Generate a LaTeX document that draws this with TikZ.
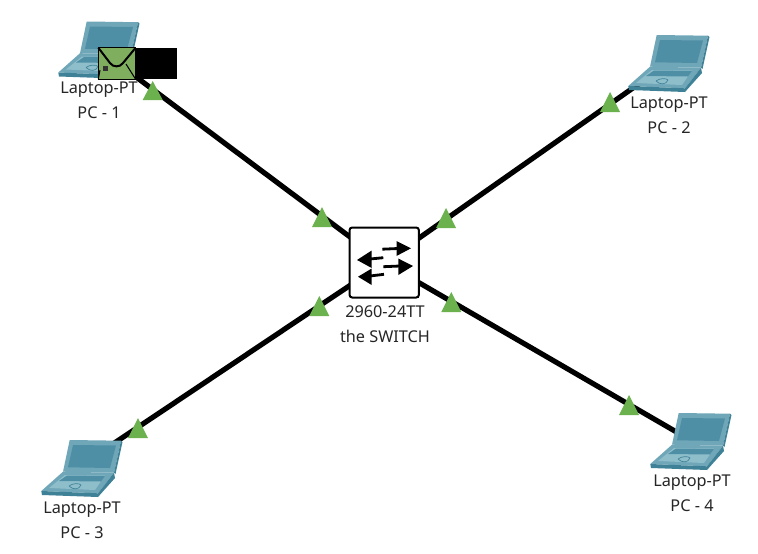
\documentclass[tikz,border=0pt]{standalone}
\usepackage{fontspec}
\setmainfont{Noto Sans}
\usetikzlibrary{backgrounds}
\definecolor{linkgreen}{HTML}{6BB24F}
\definecolor{mailgreen}{HTML}{7FAE5E}
\definecolor{lapmid}{HTML}{6FA6B8}
\definecolor{lapdark}{HTML}{3F8298}
\definecolor{lapscreen}{HTML}{4F8FA6}
\definecolor{laplight}{HTML}{8FBECB}
\tikzset{
  link/.style={line width=3.9pt,black},
  tri/.style={fill=linkgreen,draw=none},
  lbl/.style={font=\fontsize{12.2pt}{18.75pt}\selectfont,text=black!85,align=center,inner sep=0pt},
  swbox/.style={draw=black,line width=1.5pt,rounded corners=2pt,fill=white,minimum width=52pt,minimum height=52.5pt,inner sep=0pt},
  arr/.style={line width=2.1pt,black},
  hub/.style={inner sep=0pt,minimum size=0pt},
  pics/laptop/.style={code={
    \fill[lapmid] (56.7,10) -- (108,10.7) -- (101,42.7) -- (50,41.7) -- cycle;
    \fill[lapdark] (108,10.7) -- (109.5,12) -- (102.5,44) -- (101,42.7) -- cycle;
    \fill[lapscreen] (60,15) -- (103,15.5) -- (97,38) -- (55,37.3) -- cycle;
    \fill[lapmid] (50,41.7) -- (101,42.7) -- (85,63.3) -- (28.3,61) -- cycle;
    \fill[laplight] (36,58) -- (52,45) -- (92,45.5) -- (82,60) -- cycle;
    \fill[lapscreen] (46,51) -- (54,45.5) -- (92,46) -- (88,51.5) -- cycle;
    \fill[lapdark] (28.3,61) -- (85,63.3) -- (85,67) -- (29,65) -- cycle;
    \fill[lapdark] (85,63.3) -- (101,42.7) -- (102,48) -- (85,67) -- cycle;
    \draw[lapdark,line width=.5pt] (56,56) .. controls (60,53) and (66,53) .. (68,55) .. controls (66,60) and (60,60) .. (56,56);
  }}
}
\begin{document}
\begin{tikzpicture}[x=0.75pt,y=-0.75pt]
\useasboundingbox (0,0) rectangle (758,554);
% laptops
\pic at (30,11.5) {laptop};
\pic at (600,25) {laptop};
\pic at (13,430) {laptop};
\pic at (622,403) {laptop};
\node[hub] (pc1) at (100,50) {};
\node[hub] (pc2) at (670,62) {};
\node[hub] (pc3) at (83,464) {};
\node[hub] (pc4) at (692,441) {};
% switch
\node[swbox] (sw) at (384.2,262.5) {};
\draw[black,line width=1pt] (350,297.6) -- (418.5,297.6);
% links, under laptops and switch
\begin{scope}[on background layer]
  \fill[white] (0,0) rectangle (758,554);
  \draw[link] (pc1.center) -- (sw.center);
  \draw[link] (pc2.center) -- (sw.center);
  \draw[link] (pc3.center) -- (sw.center);
  \draw[link] (pc4.center) -- (sw.center);
\end{scope}
% switch icon
\draw[arr] (382.3,249.2) -- (398,248.5);
\fill (396.5,241) -- (411,248.3) -- (396.5,256) -- cycle;
\draw[arr] (383.3,266.7) -- (400,266);
\fill (398.3,258.5) -- (413,266) -- (398.3,275) -- cycle;
\draw[arr] (383.3,257.7) -- (370,259);
\fill (371.7,250.5) -- (357,260) -- (371.7,268) -- cycle;
\draw[arr] (384,274.3) -- (370,276);
\fill (371.7,268.5) -- (358,276.7) -- (371.7,285) -- cycle;
% status triangles
\fill[tri] (152.7,81) -- (142.7,100) -- (162.7,100) -- cycle;
\fill[tri] (322,207) -- (312,227) -- (332,227) -- cycle;
\fill[tri] (610,92) -- (600,112) -- (620,112) -- cycle;
\fill[tri] (446,208) -- (436,228) -- (456,228) -- cycle;
\fill[tri] (319.3,296) -- (309.3,316) -- (329.3,316) -- cycle;
\fill[tri] (138,418) -- (128,438) -- (148,438) -- cycle;
\fill[tri] (451.3,292) -- (441.3,312) -- (461.3,312) -- cycle;
\fill[tri] (629,395) -- (619,415) -- (639,415) -- cycle;
% envelope
\fill[black] (135,47.7) rectangle (176.7,79.3);
\fill[mailgreen] (98.3,47.7) rectangle (135.7,79.3);
\draw[black,line width=.7pt] (98.3,47.7) rectangle (135.7,79.3);
\draw[black,line width=1.5pt] (98.3,47.7) -- (110,63) .. controls (113,67.5) and (120,67.5) .. (123,63) -- (135.7,47.7);
\draw[black,line width=.8pt] (100,70) -- (98.3,79.3) (135.7,79.3) -- (126,64);
\fill[black!80] (102.5,65.5) rectangle (107.5,71);
% labels
\node[lbl] (l1) at (99,100.5) {Laptop-PT\\PC - 1};
\node[lbl] (l2) at (669,115) {Laptop-PT\\PC - 2};
\node[lbl] (l3) at (82,520) {Laptop-PT\\PC - 3};
\node[lbl] (l4) at (692,493) {Laptop-PT\\PC - 4};
\node[lbl] (l5) at (385,324.5) {2960-24TT\\the SWITCH};
\end{tikzpicture}
\end{document}
